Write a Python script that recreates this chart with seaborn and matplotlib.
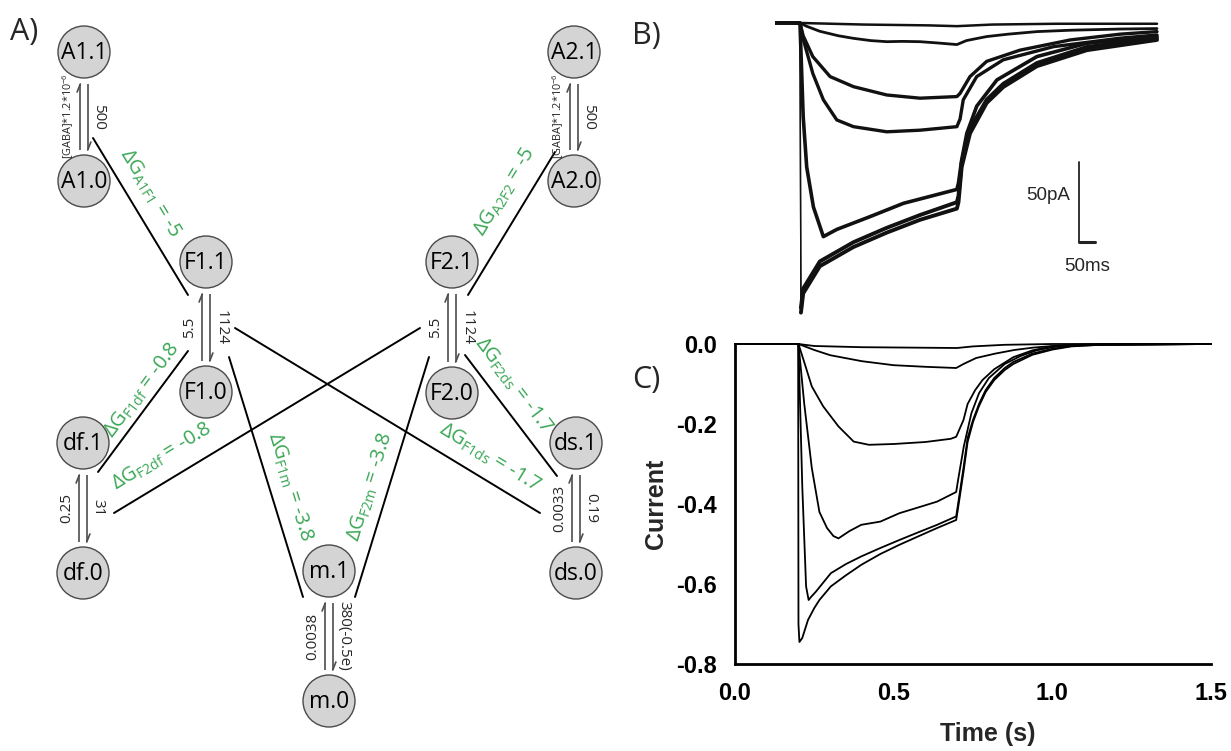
import math
import numpy as np
import pandas as pd
import matplotlib
matplotlib.use("Agg")
import matplotlib.pyplot as plt
import seaborn as sns
from matplotlib.patches import Circle

# ------------------------------------------------------------------
# Panel A data: kinetic scheme
# ------------------------------------------------------------------
node_names = ["A1.1", "A1.0", "A2.1", "A2.0", "F1.1", "F1.0", "F2.1", "F2.0",
              "df.1", "df.0", "ds.1", "ds.0", "m.1", "m.0"]
pair_top = ["A1.1", "A2.1", "F1.1", "F2.1", "df.1", "ds.1", "m.1"]
pair_bot = ["A1.0", "A2.0", "F1.0", "F2.0", "df.0", "ds.0", "m.0"]
rate_up = ["[GABA]*1.2*10$^{-6}$", "[GABA]*1.2*10$^{-6}$", "5.5", "5.5", "0.25", "0.0033", "0.0038"]
rate_down = ["500", "500", "1124", "1124", "31", "0.19", "380(-0.5e)"]
dg_names = ["A1F1", "A2F2", "F1df", "F2df", "F1ds", "F2ds", "F1m", "F2m"]
dg_values = ["-5", "-5", "-0.8", "-0.8", "-1.7", "-1.7", "-3.8", "-3.8"]

# ------------------------------------------------------------------
# Panel B data: recorded currents (ms, pA)
# ------------------------------------------------------------------
b_t1 = [-80, 0, 200, 400, 490, 600, 800, 1115]
b_i1 = [0, 0, -1, -1.5, -2, -1, -0.5, -0.5]
b_t2 = [-80, 0, 20, 62, 120, 167, 220, 271, 320, 375, 430, 490, 520, 583, 650, 740, 850, 1000, 1115]
b_i2 = [0, 0, -2, -5.2, -8, -9.6, -11, -11.7, -11.5, -11.7, -12.5, -13.5, -11, -8.5, -7, -5.4, -4.5, -3.8, -3.5]
b_t3 = [-80, 0, 10, 40, 94, 167, 271, 375, 490, 500, 531, 583, 687, 844, 1000, 1115]
b_i3 = [0, 0, -8, -21, -33.5, -39.8, -45, -47, -46, -44, -33.5, -24, -17, -10.6, -7, -5.4]
b_t4 = [-80, 0, 10, 40, 73, 115, 167, 271, 375, 490, 500, 510, 552, 635, 792, 1000, 1115]
b_i4 = [0, 0, -10, -31.5, -48, -60.6, -64.8, -68, -67, -64.8, -60, -48, -33.5, -23, -14.8, -9.5, -7.5]
b_t5 = [-80, 0, 10, 21, 42, 73, 115, 219, 323, 490, 495, 505, 521, 552, 615, 740, 896, 1115]
b_i5 = [0, 0, -58.5, -90, -115, -133.5, -129, -121, -112.7, -104, -100, -85.6, -69, -52, -35.6, -21, -12.7, -8.5]
b_t6 = [-80, 0, 3, 10, 62, 167, 271, 375, 490, 495, 505, 531, 583, 635, 740, 896, 1115]
b_i6 = [0, 0, -181, -169, -152, -140, -131, -123, -116, -112, -90, -69, -50, -40, -27, -17, -10.6]
b_i7 = [0, 0, -178, -166, -149, -137, -128, -120, -112, -108, -87, -66, -48, -38, -25, -15, -9.5]

# ------------------------------------------------------------------
# Panel C data: simulated currents (s, normalised)
# ------------------------------------------------------------------
c_t1 = [0, 0.2, 0.25, 0.4, 0.55, 0.7, 0.75, 0.85, 1.0, 1.5]
c_i1 = [0, 0, -0.005, -0.008, -0.009, -0.01, -0.006, -0.002, 0, 0]
c_t2 = [0, 0.2, 0.25, 0.3, 0.4, 0.5, 0.6, 0.697, 0.72, 0.76, 0.82, 0.88, 0.94, 1.0, 1.1, 1.5]
c_i2 = [0, 0, -0.015, -0.028, -0.043, -0.053, -0.057, -0.06, -0.05, -0.035, -0.024, -0.015, -0.009, -0.005, -0.002, 0]
c_t3 = [0, 0.2, 0.22, 0.242, 0.278, 0.326, 0.374, 0.422, 0.5, 0.6, 0.68, 0.697, 0.72, 0.733, 0.757, 0.78,
        0.817, 0.877, 0.937, 0.997, 1.06, 1.15, 1.5]
c_i3 = [0, 0, -0.05, -0.106, -0.156, -0.206, -0.244, -0.252, -0.25, -0.245, -0.237, -0.232, -0.19, -0.15,
        -0.115, -0.09, -0.063, -0.033, -0.016, -0.006, -0.002, -0.001, 0]
c_t4 = [0, 0.2, 0.218, 0.242, 0.266, 0.29, 0.31, 0.326, 0.36, 0.398, 0.458, 0.518, 0.58, 0.637, 0.697,
        0.703, 0.721, 0.745, 0.769, 0.8, 0.85, 0.9, 0.95, 1.0, 1.06, 1.15, 1.5]
c_i4 = [0, 0, -0.148, -0.31, -0.42, -0.46, -0.48, -0.486, -0.468, -0.452, -0.444, -0.423, -0.408, -0.394,
        -0.37, -0.34, -0.256, -0.173, -0.123, -0.085, -0.05, -0.03, -0.016, -0.008, -0.003, -0.001, 0]
c_t5 = [0, 0.2, 0.212, 0.224, 0.232, 0.24, 0.254, 0.302, 0.35, 0.398, 0.458, 0.518, 0.58, 0.637, 0.697,
        0.703, 0.72, 0.733, 0.75, 0.769, 0.79, 0.817, 0.85, 0.877, 0.937, 1.0, 1.06, 1.15, 1.5]
c_i5 = [0, 0, -0.356, -0.606, -0.64, -0.632, -0.62, -0.573, -0.55, -0.531, -0.51, -0.49, -0.47, -0.452,
        -0.431, -0.4, -0.31, -0.235, -0.19, -0.15, -0.115, -0.085, -0.06, -0.045, -0.024, -0.012, -0.005,
        -0.002, 0]
c_t6 = [0, 0.199, 0.2, 0.203, 0.212, 0.23, 0.25, 0.266, 0.302, 0.35, 0.398, 0.458, 0.518, 0.58, 0.637,
        0.697, 0.703, 0.72, 0.733, 0.75, 0.769, 0.79, 0.817, 0.85, 0.877, 0.937, 1.0, 1.06, 1.15, 1.5]
c_i6 = [0, 0, -0.7, -0.745, -0.735, -0.69, -0.66, -0.64, -0.606, -0.578, -0.552, -0.525, -0.502, -0.48,
        -0.46, -0.44, -0.41, -0.32, -0.245, -0.195, -0.155, -0.12, -0.09, -0.065, -0.05, -0.027, -0.014,
        -0.006, -0.002, 0]
c_xticks = [0.0, 0.5, 1.0, 1.5]
c_yticks = [0.0, -0.2, -0.4, -0.6, -0.8]

# ------------------------------------------------------------------
# Layout (pixel positions of the scheme)
# ------------------------------------------------------------------
node_pos = {
    "A1.1": (84, 52), "A1.0": (84, 181), "A2.1": (574, 52), "A2.0": (574, 181),
    "F1.1": (206, 262), "F1.0": (206, 392), "F2.1": (452, 262), "F2.0": (452, 393),
    "df.1": (83, 443), "df.0": (83, 573), "ds.1": (576, 443), "ds.0": (576, 573),
    "m.1": (329, 571), "m.0": (329, 701),
}
edge_lines = [((93, 138), (188, 295)), ((555, 152), (468, 295)), ((188, 351), (98, 472)),
              ((420, 328), (114, 513)), ((235, 328), (540, 513)), ((465, 355), (557, 476)),
              ((229, 357), (303, 597)), ((429, 357), (355, 597))]
edge_label_pos = [(150, 193), (505, 192), (142, 390), (162, 457), (490, 458), (513, 385),
                  (290, 487), (370, 487)]

sns.set_style("white")
plt.rcParams["font.family"] = ["Open Sans", "DejaVu Sans"]
plt.rcParams["mathtext.fontset"] = "custom"
plt.rcParams["mathtext.rm"] = "Open Sans"
plt.rcParams["mathtext.it"] = "Open Sans:italic"
plt.rcParams["mathtext.bf"] = "Open Sans:bold"
plt.rcParams["axes.unicode_minus"] = False

W, H = 1231, 751
fig = plt.figure(figsize=(W / 100, H / 100), dpi=100)
fig.patch.set_facecolor("white")

# ---------------- Panel A ----------------
axA = fig.add_axes([0, 0, 1, 1])
axA.set_xlim(0, W)
axA.set_ylim(H, 0)
axA.axis("off")
axA.patch.set_alpha(0)

green = "#3aa655"
arrow_c = "#4d4d4d"
R = 26

for name in node_names:
    x, y = node_pos[name]
    axA.add_patch(Circle((x, y), R, facecolor="#d4d4d4", edgecolor="#4a4a4a", lw=1.0, zorder=3))
    axA.text(x, y + 1, name, ha="center", va="center", fontsize=16.5, color="black", zorder=4)

for top, bot, up, down in zip(pair_top, pair_bot, rate_up, rate_down):
    cx, yt = node_pos[top]
    _, yb = node_pos[bot]
    y1, y2 = yt + 32, yb - 31
    xl, xr = cx - 3.7, cx + 3.7
    axA.plot([xl, xl], [y1, y2], color=arrow_c, lw=1.2, solid_capstyle="butt")
    axA.plot([xl, xl - 3.2], [y1, y1 + 8], color=arrow_c, lw=1.2)
    axA.plot([xr, xr], [y1, y2], color=arrow_c, lw=1.2, solid_capstyle="butt")
    axA.plot([xr, xr + 3.2], [y2, y2 - 8], color=arrow_c, lw=1.2)
    ym = (yt + yb) / 2
    fs_up = 7.8 if "GABA" in up else 11
    axA.text(cx - 16, ym, up, rotation=90, ha="center", va="center", fontsize=fs_up,
             rotation_mode="anchor")
    axA.text(cx + 15, ym, down, rotation=-90, ha="center", va="center", fontsize=11,
             rotation_mode="anchor")

for (p1, p2), (lx, ly), nm, val in zip(edge_lines, edge_label_pos, dg_names, dg_values):
    axA.plot([p1[0], p2[0]], [p1[1], p2[1]], color="black", lw=1.4)
    ang = -math.degrees(math.atan2(p2[1] - p1[1], p2[0] - p1[0]))
    if ang > 90:
        ang -= 180
    elif ang <= -90:
        ang += 180
    axA.text(lx, ly, r"$\mathrm{\Delta G}_{\mathrm{" + nm + "}}$ = " + val, rotation=ang,
             rotation_mode="anchor", ha="center", va="center", fontsize=14.5, color=green)

fig.text(10 / W, 1 - 32 / H, "A)", fontsize=22, ha="left", va="center")
fig.text(632 / W, 1 - 36 / H, "B)", fontsize=22, ha="left", va="center")
fig.text(632 / W, 1 - 380 / H, "C)", fontsize=22, ha="left", va="center")

# ---------------- Panel B ----------------
b_left, b_right, b_top, b_bot = 775, 1165, 10, 320
axB = fig.add_axes([b_left / W, 1 - b_bot / H, (b_right - b_left) / W, (b_bot - b_top) / H])
axB.set_xlim(-78, 1140)
axB.set_ylim(-185.6, 8.1)
axB.axis("off")
b_traces = [(b_t1, b_i1, 1.8, False), (b_t2, b_i2, 2.0, False), (b_t3, b_i3, 2.4, False),
            (b_t4, b_i4, 2.4, False), (b_t5, b_i5, 2.6, False), (b_t6, b_i6, 2.8, True),
            (b_t6, b_i7, 2.8, True)]
for tt, ii, lw, thin_onset in b_traces:
    if thin_onset:
        # very fast onset appears as a thin line in the recording
        sns.lineplot(x=tt[:3], y=ii[:3], ax=axB, color="#111111", lw=1.0, estimator=None, sort=False)
        sns.lineplot(x=tt[2:], y=ii[2:], ax=axB, color="#111111", lw=lw, estimator=None, sort=False)
    else:
        sns.lineplot(x=tt, y=ii, ax=axB, color="#111111", lw=lw, estimator=None, sort=False)
axB.plot([872, 872], [-87, -137], color="#222222", lw=1.3)
axB.plot([872, 922], [-137, -137], color="#222222", lw=2.2)
axB.text(845, -108, "50pA", ha="right", va="center", fontsize=13.5, family="Liberation Sans")
axB.text(897, -152, "50ms", ha="center", va="center", fontsize=13.5, family="Liberation Sans")

# ---------------- Panel C ----------------
c_left, c_right, c_top, c_bot = 735, 1211, 344, 664
axC = fig.add_axes([c_left / W, 1 - c_bot / H, (c_right - c_left) / W, (c_bot - c_top) / H])
c_traces = [(c_t1, c_i1), (c_t2, c_i2), (c_t3, c_i3), (c_t4, c_i4), (c_t5, c_i5), (c_t6, c_i6)]
for tt, ii in c_traces:
    sns.lineplot(x=tt, y=ii, ax=axC, color="black", lw=1.3, estimator=None, sort=False,
                 clip_on=False)
axC.set_xlim(0, 1.5)
axC.set_ylim(-0.8, 0.0)
axC.set_xticks(c_xticks)
axC.set_yticks(c_yticks)
axC.set_xticklabels([f"{v:.1f}" for v in c_xticks])
axC.set_yticklabels([f"{v:.1f}" if v != 0 else "0.0" for v in c_yticks])
sns.despine(ax=axC)
for s in ["left", "bottom"]:
    axC.spines[s].set_linewidth(2.0)
    axC.spines[s].set_color("black")
axC.tick_params(direction="out", length=8, width=2.0, colors="black", pad=5)
for lab in axC.get_xticklabels() + axC.get_yticklabels():
    lab.set_fontweight("bold")
    lab.set_fontsize(17)
    lab.set_family("Liberation Sans")
axC.set_xlabel("Time (s)", fontsize=18, fontweight="bold", family="Liberation Sans")
axC.set_ylabel("Current", fontsize=18, fontweight="bold", family="Liberation Sans", labelpad=6)
axC.xaxis.set_label_coords(0.53, -0.18)

fig.savefig("out.png", dpi=100, facecolor="white")
